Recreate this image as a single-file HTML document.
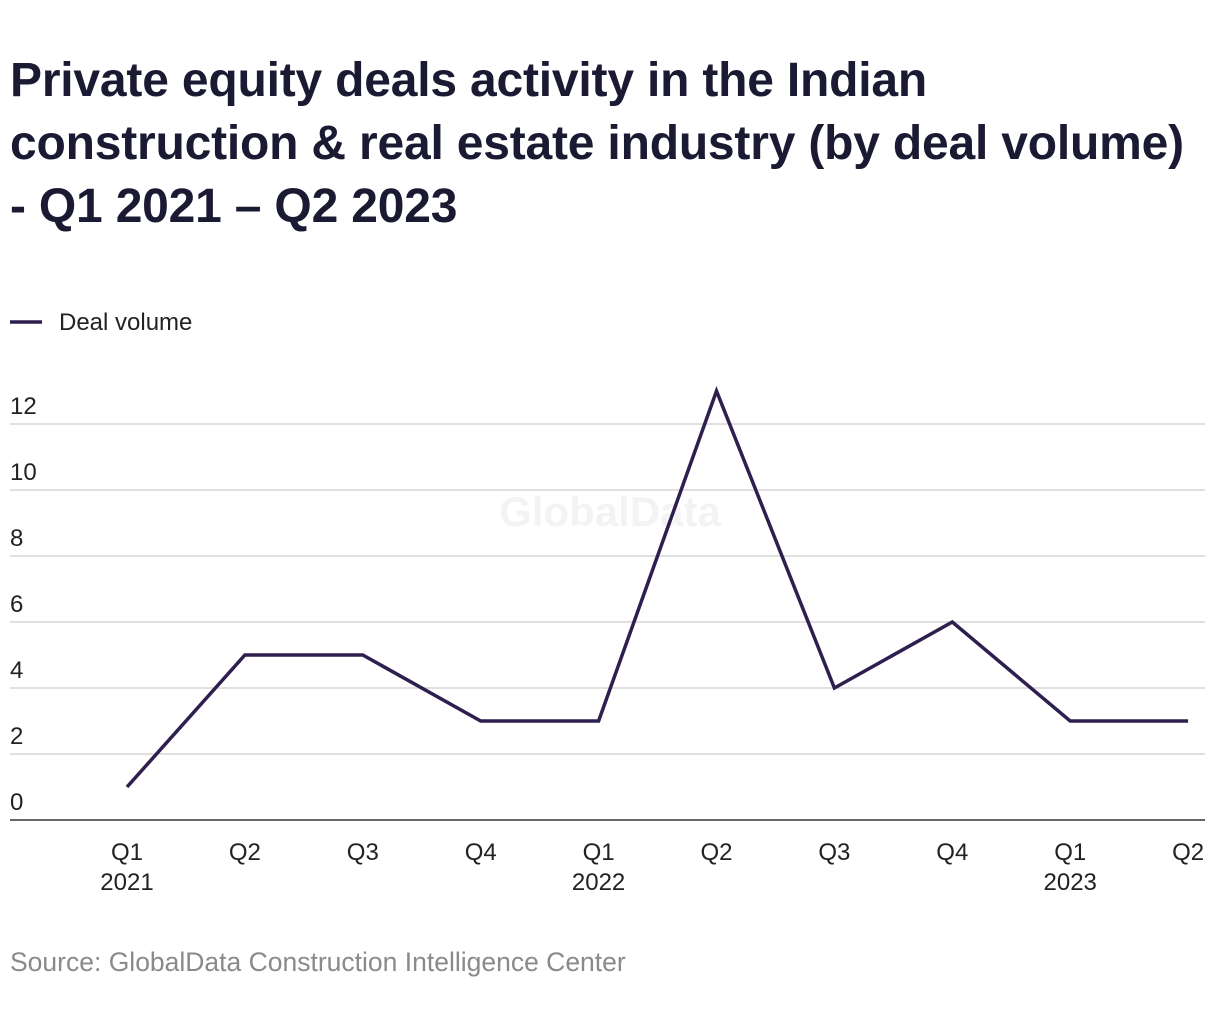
<!DOCTYPE html>
<html><head><meta charset="utf-8">
<style>
body{margin:0;width:1220px;height:1020px;background:#fff;font-family:"Liberation Sans",sans-serif;overflow:hidden}
#title{position:absolute;left:10px;top:49px;font-size:48px;font-weight:bold;line-height:63px;color:#1b1a33;letter-spacing:-0.2px;white-space:nowrap}
#src{position:absolute;left:10px;top:947px;font-size:26.5px;color:#8a8a8a}
svg{position:absolute;left:0;top:0}
</style></head><body>
<div id="title">Private equity deals activity in the Indian<br>construction &amp; real estate industry (by deal volume)<br>- Q1 2021 – Q2 2023</div>
<svg id="chart" width="1220" height="1020"></svg>
<div id="src">Source: GlobalData Construction Intelligence Center</div>
<script>
const categories=["Q1","Q2","Q3","Q4","Q1","Q2","Q3","Q4","Q1","Q2"];
const years=["2021","","","","2022","","","","2023",""];
const dealVolume=[1,5,5,3,3,13,4,6,3,3];
const yTicks=[0,2,4,6,8,10,12];
const svg=document.getElementById('chart');
const NS='http://www.w3.org/2000/svg';
const y=v=>820-v*33;
const x=i=>127+i*117.9;
function mk(t,a){const e=document.createElementNS(NS,t);for(const k in a)e.setAttribute(k,a[k]);svg.appendChild(e);return e;}
const wm=mk('text',{x:610,y:526,'font-size':42,'font-weight':'bold',fill:'#f3f3f3','text-anchor':'middle','font-family':'Liberation Sans'});
wm.textContent='GlobalData';


yTicks.forEach(v=>{
  if(v>0){const g=mk('line',{x1:10,x2:1205,y1:y(v),y2:y(v),stroke:'#d6d6d6','stroke-width':1.5});
  
  }
  const t=mk('text',{x:10,y:y(v)-10,'font-size':24,fill:'#222','font-family':'Liberation Sans'});
  t.textContent=v;
  
  
});
const ax=mk('line',{x1:10,x2:1205,y1:820,y2:820,stroke:'#333','stroke-width':1.5});


categories.forEach((c,i)=>{
  const t=mk('text',{x:x(i),y:860,'font-size':24,fill:'#222','text-anchor':'middle','font-family':'Liberation Sans'});
  t.textContent=c;
  
  
  if(years[i]){const yt=mk('text',{x:x(i),y:890,'font-size':24,fill:'#222','text-anchor':'middle','font-family':'Liberation Sans'});
  yt.textContent=years[i];
  
  }
});
const p=mk('polyline',{points:dealVolume.map((v,i)=>x(i)+','+y(v)).join(' '),fill:'none',stroke:'#2e1f4f','stroke-width':3.5,'stroke-linejoin':'miter'});


const ll=mk('line',{x1:10,x2:42,y1:322,y2:322,stroke:'#2e1f4f','stroke-width':3.5});


const lt=mk('text',{x:59,y:330,'font-size':24,fill:'#222','font-family':'Liberation Sans'});
lt.textContent='Deal volume';


</script>
</body></html>
